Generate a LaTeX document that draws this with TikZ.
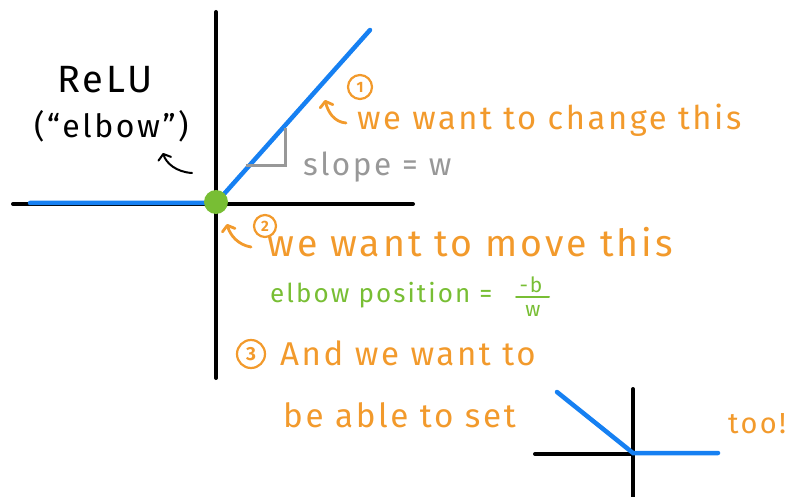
\documentclass[tikz,border=0pt]{standalone}
\usepackage{fontspec}
\setmainfont{Fira Sans}
\newfontfamily\handfont[LetterSpace=8]{Fira Sans}
\usetikzlibrary{arrows.meta}

\definecolor{reluBlue}{RGB}{22,128,242}
\definecolor{noteOrange}{RGB}{242,154,44}
\definecolor{elbowGreen}{RGB}{120,190,52}
\definecolor{markGray}{RGB}{152,152,152}

\begin{document}
\begin{tikzpicture}[
  x=1pt, y=-1pt,
  axis/.style={line width=4pt, line cap=round, black},
  relu/.style={line width=4.5pt, line cap=round, reluBlue},
  note/.style={anchor=base west, inner sep=0pt, text=noteOrange},
  num/.style={circle, draw=noteOrange, line width=2.2pt, text=noteOrange,
              inner sep=0pt, font=\fontsize{15}{15}\selectfont\bfseries},
  hook/.style={line width=2.8pt, line cap=round, noteOrange,
               -{Straight Barb[length=5pt, width=13pt, round]}},
  hand/.style={font=\handfont\fontsize{#1}{#1}\selectfont}
]
\useasboundingbox (0,0) rectangle (793,497);

% main axes and the relu
\coordinate (O) at (216,203);
\draw[axis] (216,12) -- (216,378);
\draw[axis] (13,204) -- (413,204);
\draw[relu] (30,203) -- (O) -- (370,30);
\node[circle, fill=elbowGreen, minimum size=24pt, inner sep=0pt] (elbow) at (216,202) {};

% slope marker
\draw[markGray, line width=3pt] (246,166) -- (285,166) -- (285,128);
\node[note, text=markGray, hand=31.5] (slope) at (303,176) {slope = w};

% title
\node[note, text=black, hand=38] (relu) at (57,93) {ReLU};
\node[note, text=black, hand=32] (nick) at (34,138) {(“elbow”)};
\coordinate (nickTail) at (192,173);
\coordinate (nickTip) at (163,153);
\draw[hook, black, line width=2pt] (nickTail) .. controls (176,172) and (166,163) .. (nickTip);

% 1: slope
\node[num, minimum size=24pt] (one) at (360,87) {1};
\node[note, hand=32.7] (change) at (357,130) {we want to change this};
\coordinate (oneTail) at (346,123);
\coordinate (oneTip) at (325,100);
\draw[hook] (oneTail) .. controls (334,122) and (328,112) .. (oneTip);

% 2: elbow position
\node[num, minimum size=22pt] (two) at (265,226) {2};
\node[note, hand=37.5] (move) at (267,257) {we want to move this};
\coordinate (twoTail) at (251,247);
\coordinate (twoTip) at (227,224);
\draw[hook] (twoTail) .. controls (238,245) and (230,235) .. (twoTip);
\node[note, text=elbowGreen, hand=26] (pos) at (270,303) {elbow position =};
\node[text=elbowGreen, inner sep=0pt, hand=21] (numer) at (531,285) {-b};
\node[text=elbowGreen, inner sep=0pt, hand=21] (denom) at (533,311) {w};
\draw[elbowGreen, line width=2pt, line cap=round] (516,297) -- (549,297);

% 3: flipped relu
\node[num, minimum size=28pt, font=\fontsize{19}{19}\selectfont\bfseries] (three) at (251,354) {3};
\node[note, hand=33] (andwe) at (280,365) {And we want to};
\node[note, hand=33.2] (able) at (283,427) {be able to set};
\draw[axis] (633,389) -- (633,497);
\draw[axis] (535,454) -- (633,454);
\draw[relu] (557,392) -- (633,453) -- (718,453);
\node[note, hand=29] (too) at (728,433) {too!};
\end{tikzpicture}
\end{document}
